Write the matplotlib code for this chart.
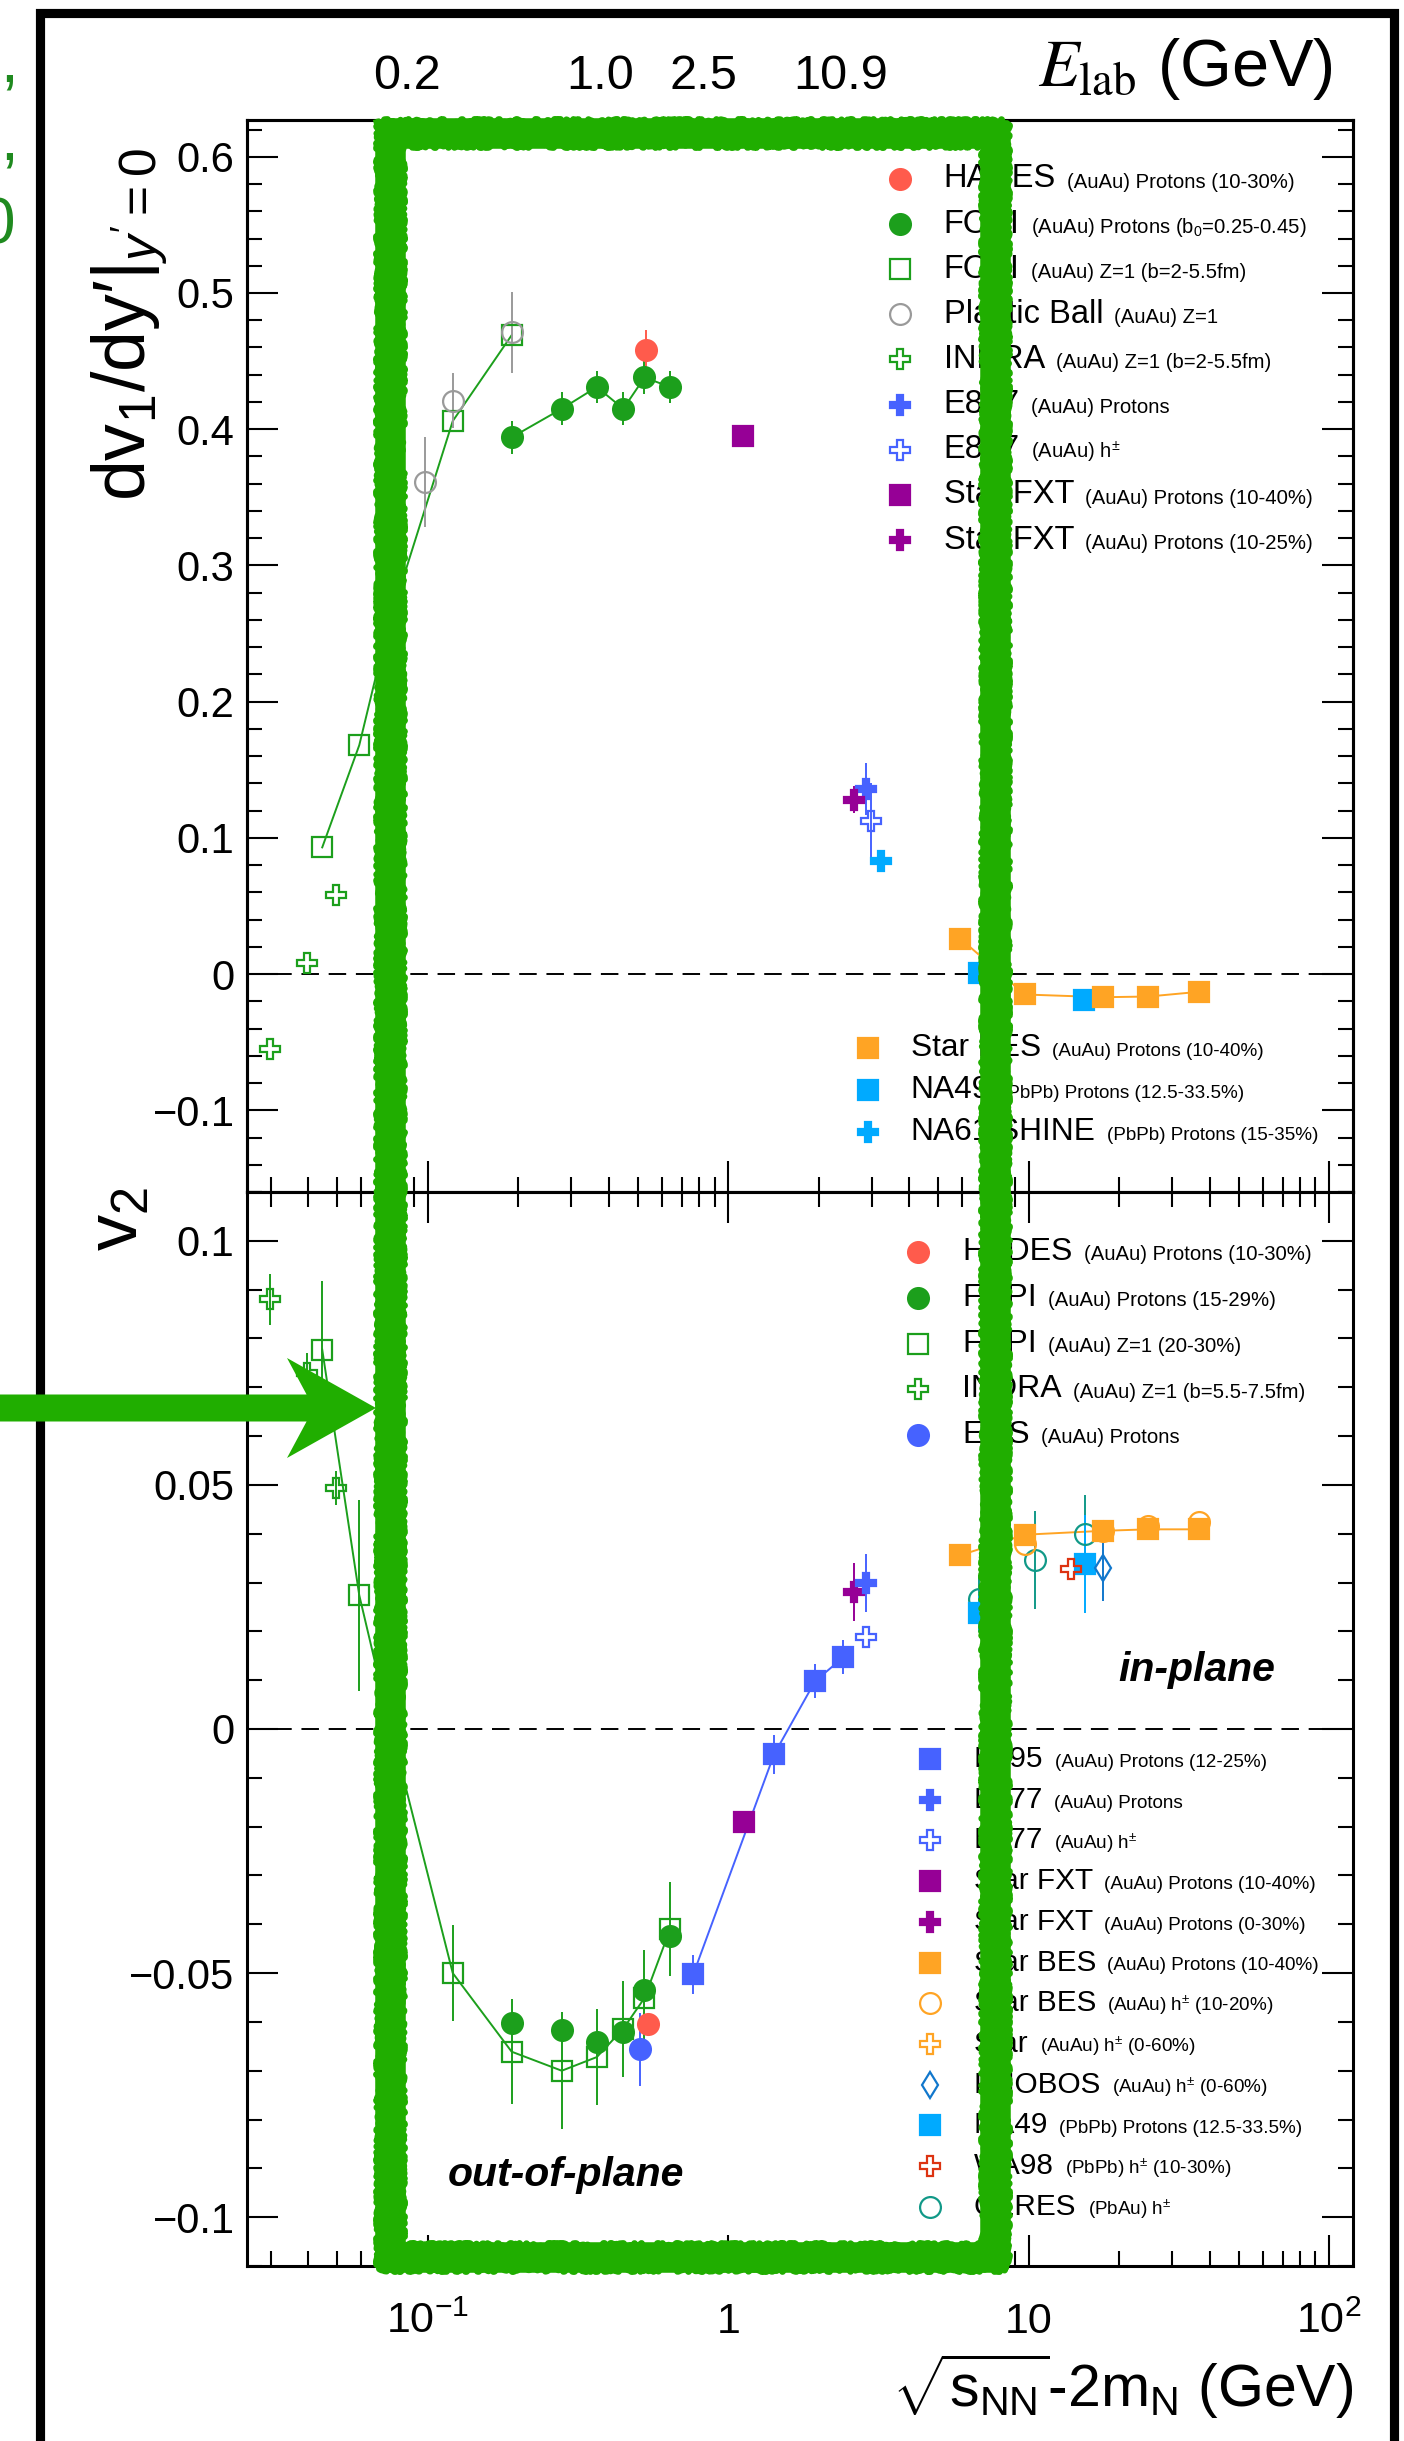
import numpy as np
import matplotlib.pyplot as plt
import matplotlib.ticker as mticker
import matplotlib.patches as mpatches
from matplotlib.lines import Line2D
from matplotlib import font_manager

plt.rcParams['font.family'] = ['Liberation Sans', 'DejaVu Sans']
plt.rcParams['mathtext.fontset'] = 'custom'
plt.rcParams['mathtext.rm'] = 'Liberation Sans'
plt.rcParams['mathtext.it'] = 'Liberation Sans:italic'
plt.rcParams['mathtext.bf'] = 'Liberation Sans:bold'

W, H = 1404, 2441

RED = '#ff5b4c'
GREEN = '#1c9f1c'
GREY = '#9a9a9a'
BLUE = '#4662ff'
PURPLE = '#960096'
ORANGE = '#ffa424'
SKY = '#00aaff'
BRICK = '#dd3311'
STEEL = '#1177cc'
TEAL = '#119988'
MARK = '#20ae00'
DKGREEN = '#1f8a1f'

# ---------------- dv1/dy' at mid-rapidity ----------------
hades_v1_x = [0.534]
hades_v1_y = [0.458]
hades_v1_e = [0.015]

fopi_v1_x = [0.190, 0.279, 0.365, 0.447, 0.526, 0.640]
fopi_v1_y = [0.394, 0.415, 0.431, 0.415, 0.438, 0.431]
fopi_v1_e = [0.012, 0.012, 0.012, 0.012, 0.012, 0.012]

fopiz_v1_x = [0.0445, 0.0591, 0.0736, 0.121, 0.190]
fopiz_v1_y = [0.093, 0.168, 0.255, 0.406, 0.469]

plastic_x = [0.0975, 0.121, 0.190]
plastic_y = [0.361, 0.421, 0.471]
plastic_e = [0.033, 0.02, 0.03]

indra_v1_x = [0.0298, 0.0396, 0.0494]
indra_v1_y = [-0.055, 0.008, 0.058]

e877p_v1_x, e877p_v1_y, e877p_v1_e = [2.87], [0.136], [0.019]
e877h_v1_x, e877h_v1_y, e877h_v1_e = [2.98], [0.1125], [0.028]
fxt10_v1_x, fxt10_v1_y = [1.12], [0.395]
fxt25_v1_x, fxt25_v1_y, fxt25_v1_e = [2.62], [0.128], [0.01]

bes_v1_x = [5.92, 9.70, 17.7, 25.0, 37.0]
bes_v1_y = [0.026, -0.015, -0.017, -0.0165, -0.013]

na49_v1_x = [6.85, 15.3]
na49_v1_y = [0.001, -0.0187]
na49_v1_e = [0.004, 0.006]

na61_v1_x, na61_v1_y, na61_v1_e = [3.22], [0.083], [0.006]

# ---------------- v2 at mid-rapidity ----------------
hades_v2_x, hades_v2_y = [0.540], [-0.0605]

fopi_v2_x = [0.190, 0.279, 0.365, 0.447, 0.526, 0.640]
fopi_v2_y = [-0.0602, -0.0617, -0.0642, -0.0620, -0.0534, -0.0423]

fopiz_v2_x = [0.0445, 0.0591, 0.0736, 0.121, 0.190, 0.279, 0.365, 0.447, 0.526, 0.640]
fopiz_v2_y = [0.0777, 0.0274, 0.0025, -0.050, -0.0661, -0.0700, -0.0672, -0.0614, -0.0551, -0.041]
fopiz_v2_e = [0.014, 0.0196, 0.01, 0.0098, 0.0108, 0.012, 0.0098, 0.0098, 0.0098, 0.0096]

indra_v2_x = [0.0298, 0.0396, 0.0494]
indra_v2_y = [0.088, 0.073, 0.0494]
indra_v2_e = [0.0053, 0.004, 0.0035]

eos_v2_x, eos_v2_y, eos_v2_e = [0.507], [-0.0656], [0.0075]

e895_v2_x = [0.765, 1.42, 1.945, 2.415]
e895_v2_y = [-0.0502, -0.0052, 0.0098, 0.0147]
e895_v2_e = [0.004, 0.004, 0.0035, 0.0035]

e877p_v2_x, e877p_v2_y, e877p_v2_e = [2.874], [0.0299], [0.006]
e877h_v2_x, e877h_v2_y = [2.874], [0.0189]
fxt40_v2_x, fxt40_v2_y = [1.125], [-0.0191]
fxt30_v2_x, fxt30_v2_y, fxt30_v2_e = [2.62], [0.0281], [0.0059]

bes_v2_x = [5.92, 9.70, 17.7, 25.0, 37.0]
bes_v2_y = [0.0356, 0.0398, 0.0406, 0.0409, 0.0409]
besh_v2_x = [9.70, 17.7, 25.0, 37.0]
besh_v2_y = [0.0379, 0.0406, 0.0416, 0.0424]

phobos_v2_x, phobos_v2_y, phobos_v2_e = [17.7], [0.033], [0.0067]
na49_v2_x = [6.85, 15.4]
na49_v2_y = [0.0238, 0.0338]
na49_v2_e = [0.004, 0.01]
wa98_v2_x, wa98_v2_y = [13.8], [0.0328]
ceres_v2_x = [6.85, 10.5, 15.4]
ceres_v2_y = [0.0266, 0.0346, 0.040]
ceres_v2_e = [0.005, 0.01, 0.008]

# top axis: beam kinetic energy per nucleon
elab_pos = [0.085, 0.373, 0.826, 2.37]
elab_lbl = ['0.2', '1.0', '2.5', '10.9']

xt_vals = [0.1, 1, 10, 100]
xt_lbls = [r'$10^{-1}$', '1', '10', r'$10^{2}$']

leg_v1_a = [
    ('HADES', '(AuAu) Protons (10-30%)', 'o', RED, True),
    ('FOPI', '(AuAu) Protons (b$_0$=0.25-0.45)', 'o', GREEN, True),
    ('FOPI', '(AuAu) Z=1 (b=2-5.5fm)', 's', GREEN, False),
    ('Plastic Ball', '(AuAu) Z=1', 'o', GREY, False),
    ('INDRA', '(AuAu) Z=1 (b=2-5.5fm)', 'P', GREEN, False),
    ('E877', '(AuAu) Protons', 'P', BLUE, True),
    ('E877', r'(AuAu) h$^{\pm}$', 'P', BLUE, False),
    ('Star FXT', '(AuAu) Protons (10-40%)', 's', PURPLE, True),
    ('Star FXT', '(AuAu) Protons (10-25%)', 'P', PURPLE, True),
]
leg_v1_b = [
    ('Star BES', '(AuAu) Protons (10-40%)', 's', ORANGE, True),
    ('NA49', '(PbPb) Protons (12.5-33.5%)', 's', SKY, True),
    ('NA61/SHINE', '(PbPb) Protons (15-35%)', 'P', SKY, True),
]
leg_v2_a = [
    ('HADES', '(AuAu) Protons (10-30%)', 'o', RED, True),
    ('FOPI', '(AuAu) Protons (15-29%)', 'o', GREEN, True),
    ('FOPI', '(AuAu) Z=1 (20-30%)', 's', GREEN, False),
    ('INDRA', '(AuAu) Z=1 (b=5.5-7.5fm)', 'P', GREEN, False),
    ('EOS', '(AuAu) Protons', 'o', BLUE, True),
]
leg_v2_b = [
    ('E895', '(AuAu) Protons (12-25%)', 's', BLUE, True),
    ('E877', '(AuAu) Protons', 'P', BLUE, True),
    ('E877', r'(AuAu) h$^{\pm}$', 'P', BLUE, False),
    ('Star FXT', '(AuAu) Protons (10-40%)', 's', PURPLE, True),
    ('Star FXT', '(AuAu) Protons (0-30%)', 'P', PURPLE, True),
    ('Star BES', '(AuAu) Protons (10-40%)', 's', ORANGE, True),
    ('Star BES', r'(AuAu) h$^{\pm}$ (10-20%)', 'o', ORANGE, False),
    ('Star', r'(AuAu) h$^{\pm}$ (0-60%)', 'P', ORANGE, False),
    ('PHOBOS', r'(AuAu) h$^{\pm}$ (0-60%)', 'd', STEEL, False),
    ('NA49', '(PbPb) Protons (12.5-33.5%)', 's', SKY, True),
    ('WA98', r'(PbPb) h$^{\pm}$ (10-30%)', 'P', BRICK, False),
    ('CERES', r'(PbAu) h$^{\pm}$', 'o', TEAL, False),
]

MS = {'o': 15, 's': 14, 'P': 14, 'd': 13}

installed = {f.name for f in font_manager.fontManager.ttflist}
NARROW = 'Liberation Sans Narrow' in installed


def series(ax, x, y, err, marker, color, filled=True, line=False):
    if line:
        ax.plot(x, y, color=color, lw=1.4, zorder=2)
    ax.errorbar(x, y, yerr=err, linestyle='none', marker=marker, ms=MS[marker],
                mfc=color if filled else 'none', mec=color, mew=1.6,
                ecolor=color, elinewidth=1.4, capsize=0, zorder=3)


def legend_rows(ax, xm, xt, y0, dy, rows, big, small):
    for i, (name, detail, marker, color, filled) in enumerate(rows):
        y = y0 - i * dy
        ax.plot([xm], [y], transform=ax.transAxes, linestyle='none', marker=marker,
                ms=MS[marker], mfc=color if filled else 'none', mec=color, mew=1.6,
                clip_on=False, zorder=4)
        t = ax.text(xt, y, name, transform=ax.transAxes, fontsize=big, va='center', zorder=4)
        ax.annotate(detail, xy=(1, 0), xycoords=t, xytext=(8, 0.21 * big),
                    textcoords='offset points', fontsize=small, va='baseline', zorder=4)


def ytick_fmt(v, pos):
    s = f'{v:.2f}'.rstrip('0').rstrip('.')
    if s in ('0', '-0'):
        return '0'
    return s.replace('-', '\u2212')


fig = plt.figure(figsize=(W / 100, H / 100), dpi=100)
ax1 = fig.add_axes([247 / W, 1 - 1192 / H, 1106 / W, 1072 / H])
ax2 = fig.add_axes([247 / W, 1 - 2266 / H, 1106 / W, 1074 / H])

for ax in (ax1, ax2):
    ax.set_xscale('log')
    ax.set_xlim(0.025, 120)
    ax.tick_params(which='both', direction='in', top=True, right=True, width=1.5,
                   labelsize=30, pad=9, labelbottom=False)
    ax.tick_params(which='major', length=22)
    ax.tick_params(which='minor', length=11)
    for sp in ax.spines.values():
        sp.set_linewidth(2.2)
    ax.axhline(0, color='k', lw=1.4, ls=(0, (9, 5)), zorder=1)
    ax.yaxis.set_major_formatter(mticker.FuncFormatter(ytick_fmt))

ax1.set_ylim(-0.16, 0.627)
ax1.yaxis.set_major_locator(mticker.MultipleLocator(0.1))
ax1.yaxis.set_minor_locator(mticker.MultipleLocator(0.02))
ax2.set_ylim(-0.11, 0.11)
ax2.yaxis.set_major_locator(mticker.MultipleLocator(0.05))
ax2.yaxis.set_minor_locator(mticker.MultipleLocator(0.01))

# directed flow
series(ax1, indra_v1_x, indra_v1_y, None, 'P', GREEN, False)
series(ax1, fopiz_v1_x, fopiz_v1_y, None, 's', GREEN, False, line=True)
series(ax1, plastic_x, plastic_y, plastic_e, 'o', GREY, False)
series(ax1, fopi_v1_x, fopi_v1_y, fopi_v1_e, 'o', GREEN, True, line=True)
series(ax1, hades_v1_x, hades_v1_y, hades_v1_e, 'o', RED, True)
series(ax1, fxt10_v1_x, fxt10_v1_y, None, 's', PURPLE, True)
series(ax1, e877h_v1_x, e877h_v1_y, e877h_v1_e, 'P', BLUE, False)
series(ax1, e877p_v1_x, e877p_v1_y, e877p_v1_e, 'P', BLUE, True)
series(ax1, fxt25_v1_x, fxt25_v1_y, fxt25_v1_e, 'P', PURPLE, True)
series(ax1, na61_v1_x, na61_v1_y, na61_v1_e, 'P', SKY, True)
series(ax1, na49_v1_x, na49_v1_y, na49_v1_e, 's', SKY, True)
series(ax1, bes_v1_x, bes_v1_y, None, 's', ORANGE, True, line=True)

# elliptic flow
series(ax2, indra_v2_x, indra_v2_y, indra_v2_e, 'P', GREEN, False)
series(ax2, fopiz_v2_x, fopiz_v2_y, fopiz_v2_e, 's', GREEN, False, line=True)
series(ax2, fopi_v2_x, fopi_v2_y, None, 'o', GREEN, True)
series(ax2, hades_v2_x, hades_v2_y, None, 'o', RED, True)
series(ax2, eos_v2_x, eos_v2_y, eos_v2_e, 'o', BLUE, True)
series(ax2, e895_v2_x, e895_v2_y, e895_v2_e, 's', BLUE, True, line=True)
series(ax2, fxt40_v2_x, fxt40_v2_y, None, 's', PURPLE, True)
series(ax2, fxt30_v2_x, fxt30_v2_y, fxt30_v2_e, 'P', PURPLE, True)
series(ax2, e877p_v2_x, e877p_v2_y, e877p_v2_e, 'P', BLUE, True)
series(ax2, e877h_v2_x, e877h_v2_y, None, 'P', BLUE, False)
series(ax2, ceres_v2_x, ceres_v2_y, ceres_v2_e, 'o', TEAL, False)
series(ax2, na49_v2_x, na49_v2_y, na49_v2_e, 's', SKY, True)
series(ax2, wa98_v2_x, wa98_v2_y, None, 'P', BRICK, False)
series(ax2, phobos_v2_x, phobos_v2_y, phobos_v2_e, 'd', STEEL, False)
series(ax2, besh_v2_x, besh_v2_y, None, 'o', ORANGE, False)
series(ax2, bes_v2_x, bes_v2_y, None, 's', ORANGE, True, line=True)

legend_rows(ax1, 0.5904, 0.630, 0.945, 0.0421, leg_v1_a, 23.5, 14.6)
legend_rows(ax1, 0.5615, 0.600, 0.1343, 0.0392, leg_v1_b, 22.8, 13.6)
legend_rows(ax2, 0.6067, 0.6465, 0.944, 0.0426, leg_v2_a, 23, 14.6)
legend_rows(ax2, 0.6175, 0.6573, 0.472, 0.0379, leg_v2_b, 21.4, 13.6)

ax2.text(0.7875, 0.555, 'in-plane', transform=ax2.transAxes, fontsize=29.5,
         weight='bold', style='italic', va='center')
ax2.text(0.1817, 0.0847, 'out-of-plane', transform=ax2.transAxes, fontsize=29.5,
         weight='bold', style='italic', va='center')

# bottom axis labels
for v, s in zip(xt_vals, xt_lbls):
    ax2.text(v, -0.0624, s, transform=ax2.get_xaxis_transform(), ha='center',
             va='baseline', fontsize=31)
ax2.text(1.0, (2266 - 2407) / 1074,
         r'$\sqrt{\mathrm{s}_{\mathrm{NN}}}$-2m$_{\mathrm{N}}$ (GeV)',
         transform=ax2.transAxes, ha='right', va='baseline', fontsize=42.5)

# beam energy axis on top
top = ax1.twiny()
top.set_xscale('log')
top.set_xlim(ax1.get_xlim())
top.set_xticks(elab_pos, labels=elab_lbl)
top.xaxis.set_minor_locator(mticker.NullLocator())
top.tick_params(axis='x', direction='in', length=14, width=1.5, labelsize=35, pad=15)
for sp in top.spines.values():
    sp.set_linewidth(2.2)
ax1.text((1333 - 247) / 1106, (1192 - 86) / 1072, r'$E_{\mathrm{lab}}$ (GeV)',
         transform=ax1.transAxes, ha='right', va='baseline', fontsize=48,
         math_fontfamily='stix')

# axis titles
if NARROW:
    title_kw = dict(family=['Liberation Sans Narrow', 'Liberation Sans', 'DejaVu Sans'],
                    fontsize=62)
else:
    title_kw = dict(fontsize=53)
fig.text(130 / W, 1 - 148 / H, "dv$_1$/dy\u2032|$_{y'=0}$", rotation=90,
         ha='center', va='top', **title_kw)
fig.text(119 / W, 1 - 1219 / H, r'$\mathrm{v_2}$', rotation=90,
         ha='center', va='center', fontsize=52)

# text spilling in from the neighbouring panel
fig.text(0, 1 - 82 / H, ',', color=DKGREEN, fontsize=46, va='baseline')
fig.text(0, 1 - 159 / H, ',', color=DKGREEN, fontsize=46, va='baseline')
fig.text(-20 / W, 1 - 243 / H, '0', color=DKGREEN, fontsize=46, va='baseline')

inch = fig.dpi_scale_trans


def px(xs, ys):
    return np.asarray(xs, float) / 100, (H - np.asarray(ys, float)) / 100


# outer frame
fx, fy = px([40, 40, 1394, 1394], [H + 20, 13, 13, H + 20])
fig.add_artist(Line2D(fx, fy, transform=inch, color='k', lw=6.6,
                      solid_joinstyle='miter', zorder=8))

# hand-drawn highlight box
bx, by = px([390, 995, 995, 390, 390], [133, 133, 2257, 2257, 133])
fig.add_artist(Line2D(bx, by, transform=inch, color=MARK, lw=22,
                      solid_joinstyle='round', solid_capstyle='round', zorder=20))
for d in (-11, 11):
    rx, ry = px([390 + d, 995 - d, 995 - d, 390 + d, 390 + d],
                [133 + d, 133 + d, 2257 - d, 2257 - d, 133 + d])
    edge = Line2D(rx, ry, transform=inch, color=MARK, lw=5, zorder=21)
    edge.set_sketch_params(scale=3, length=12, randomness=15)
    fig.add_artist(edge)

ax_, ay_ = px([-10], [1408])
arrow = mpatches.FancyArrow(ax_[0], ay_[0], 3.86, 0, width=0.27, head_width=1.0,
                            head_length=0.89, overhang=0.22, length_includes_head=True,
                            transform=inch, color=MARK, lw=0, zorder=22)
fig.add_artist(arrow)

fig.savefig('out.png', dpi=100)
